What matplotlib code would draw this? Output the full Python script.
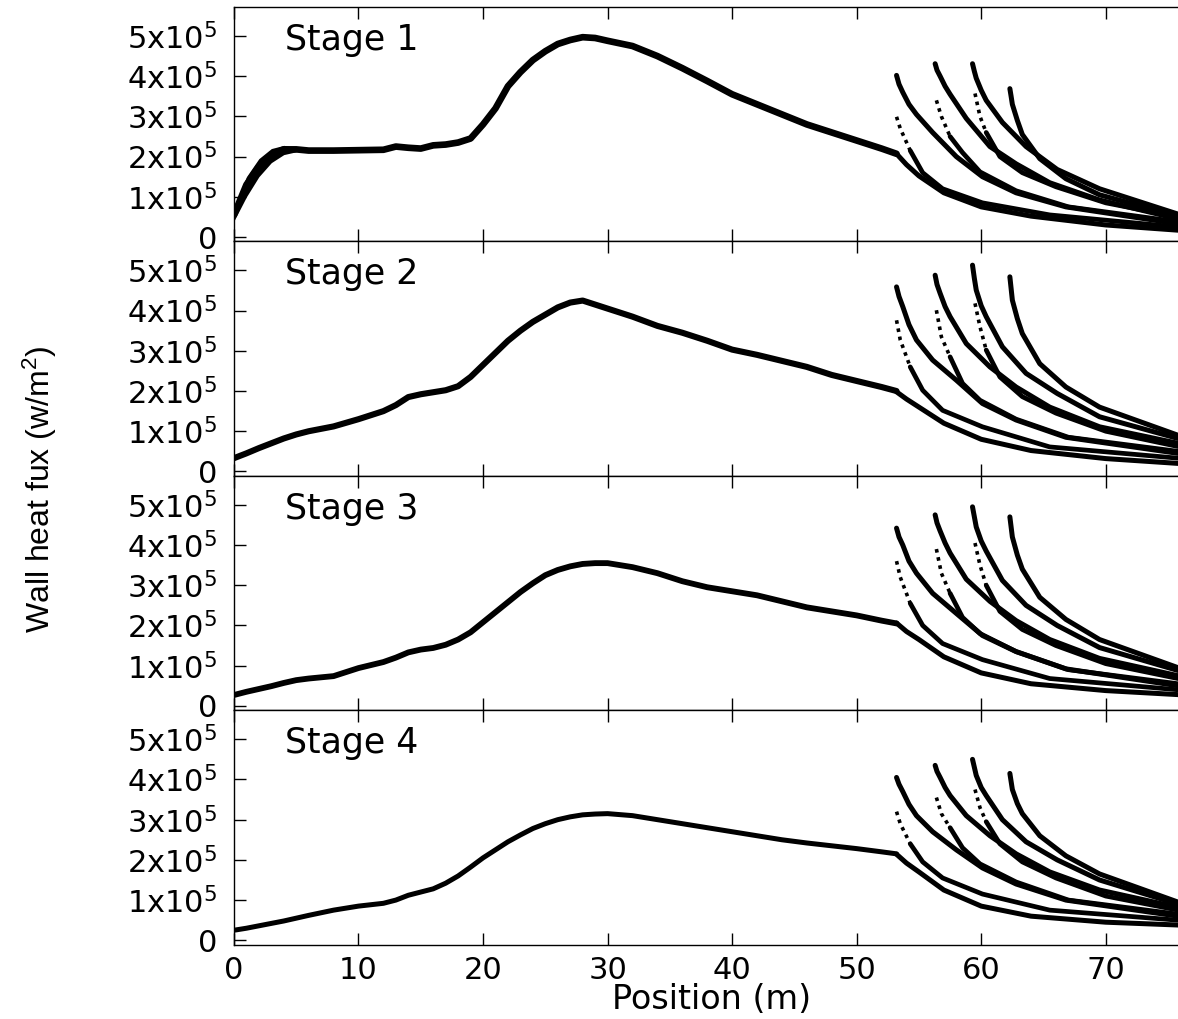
import numpy as np
import matplotlib.pyplot as plt

plt.rcParams['font.family'] = 'DejaVu Sans'
plt.rcParams['mathtext.default'] = 'regular'

# all heat flux values below are in units of 1e5 W/m2
E5 = 1e5

# main run, inlet to first outlet
main_x = [0, 1, 2, 3, 4, 5, 6, 8, 10, 12, 13, 14, 15, 16, 17, 18, 19, 20, 21, 22,
          23, 24, 25, 26, 27, 28, 29, 30, 32, 34, 36, 38, 40, 42, 44, 46, 48, 50, 52, 53.2]

stage1_main = [0.55, 1.3, 1.75, 2.05, 2.18, 2.18, 2.15, 2.15, 2.16, 2.17, 2.25, 2.22, 2.2, 2.28,
               2.3, 2.35, 2.45, 2.8, 3.2, 3.75, 4.1, 4.4, 4.62, 4.8, 4.9, 4.97, 4.95, 4.88,
               4.75, 4.5, 4.2, 3.88, 3.55, 3.3, 3.05, 2.8, 2.6, 2.4, 2.2, 2.07]
stage2_main = [0.33, 0.45, 0.58, 0.7, 0.82, 0.92, 1.0, 1.12, 1.3, 1.5, 1.65, 1.85, 1.92, 1.97,
               2.02, 2.12, 2.35, 2.65, 2.95, 3.25, 3.5, 3.72, 3.9, 4.08, 4.2, 4.25, 4.15, 4.05,
               3.85, 3.62, 3.45, 3.25, 3.03, 2.9, 2.75, 2.6, 2.4, 2.25, 2.1, 2.0]
stage3_main = [0.27, 0.35, 0.42, 0.49, 0.57, 0.64, 0.68, 0.74, 0.94, 1.09, 1.2, 1.33, 1.4, 1.44,
               1.52, 1.65, 1.83, 2.08, 2.33, 2.58, 2.83, 3.05, 3.25, 3.38, 3.47, 3.53, 3.55, 3.55,
               3.45, 3.3, 3.1, 2.95, 2.85, 2.75, 2.6, 2.45, 2.35, 2.25, 2.12, 2.05]
stage4_main = [0.25, 0.3, 0.36, 0.42, 0.48, 0.55, 0.62, 0.75, 0.85, 0.92, 1.0, 1.12, 1.2, 1.28,
               1.42, 1.6, 1.82, 2.05, 2.25, 2.45, 2.62, 2.78, 2.9, 3.0, 3.07, 3.12, 3.14, 3.15,
               3.1, 3.0, 2.9, 2.8, 2.7, 2.6, 2.5, 2.42, 2.35, 2.28, 2.2, 2.15]

# scatter band near the inlet in stage 1
band_x = [0, 1, 2, 3, 4, 5]
stage1_band_lo = [0.4, 1.0, 1.5, 1.85, 2.05, 2.12]
stage1_band_hi = [0.7, 1.5, 1.95, 2.2, 2.28, 2.22]

# outlet branches
tail_x = [53.2, 54.0, 55.0, 57.0, 60.0, 64.0, 70.0, 75.8]
b1u_x = [53.2, 53.4, 53.7, 54.2, 54.8, 56.1, 58.0, 60.1, 62.8, 66.8, 75.8]
b1l_x = [53.2, 53.5, 54.3, 55.3, 56.9, 60.1, 65.5, 75.8]
b2u_x = [56.3, 56.45, 56.7, 57.1, 57.5, 58.8, 60.7, 62.8, 65.5, 69.5, 75.8]
b2l_x = [56.4, 56.8, 57.5, 58.5, 59.9, 62.8, 67.0, 75.8]
b3u_x = [59.3, 59.45, 59.6, 60.0, 60.4, 61.7, 63.6, 66.1, 69.5, 75.8]
b3l_x = [59.5, 59.9, 60.4, 61.5, 63.3, 66.0, 70.0, 75.8]
b4_x = [62.3, 62.4, 62.5, 62.9, 63.3, 64.7, 66.8, 69.5, 75.8]

stage1_tail = [2.07, 1.8, 1.52, 1.1, 0.75, 0.52, 0.3, 0.17]
stage1_b1u = [4.02, 3.8, 3.6, 3.3, 3.05, 2.6, 2.0, 1.5, 1.1, 0.75, 0.33]
stage1_b1l = [2.99, 2.7, 2.15, 1.6, 1.2, 0.85, 0.55, 0.25]
stage1_b2u = [4.31, 4.15, 4.0, 3.75, 3.55, 2.95, 2.25, 1.82, 1.35, 0.92, 0.45]
stage1_b2l = [3.4, 3.0, 2.5, 2.1, 1.62, 1.15, 0.75, 0.38]
stage1_b3u = [4.31, 4.12, 3.95, 3.65, 3.4, 2.85, 2.25, 1.68, 1.2, 0.57]
stage1_b3l = [3.57, 3.0, 2.6, 2.0, 1.6, 1.25, 0.85, 0.5]
stage1_b4 = [3.69, 3.5, 3.3, 2.9, 2.55, 1.95, 1.45, 1.05, 0.52]

stage2_tail = [1.98, 1.8, 1.6, 1.2, 0.8, 0.52, 0.32, 0.2]
stage2_b1u = [4.59, 4.35, 4.1, 3.65, 3.27, 2.77, 2.27, 1.69, 1.28, 0.85, 0.45]
stage2_b1l = [3.76, 3.27, 2.6, 2.02, 1.52, 1.11, 0.61, 0.33]
stage2_b2u = [4.88, 4.65, 4.43, 4.1, 3.85, 3.18, 2.6, 2.1, 1.6, 1.11, 0.7]
stage2_b2l = [4.01, 3.35, 2.85, 2.19, 1.77, 1.3, 0.85, 0.5]
stage2_b3u = [5.13, 4.8, 4.51, 4.12, 3.85, 3.1, 2.44, 1.94, 1.36, 0.82]
stage2_b3l = [4.18, 3.6, 3.02, 2.35, 1.86, 1.45, 1.0, 0.62]
stage2_b4 = [4.84, 4.55, 4.26, 3.8, 3.43, 2.68, 2.1, 1.6, 0.9]

stage3_tail = [2.06, 1.85, 1.65, 1.22, 0.82, 0.55, 0.38, 0.28]
stage3_b1u = [4.42, 4.2, 4.0, 3.6, 3.3, 2.8, 2.3, 1.75, 1.35, 0.92, 0.5]
stage3_b1l = [3.6, 3.2, 2.55, 2.0, 1.55, 1.15, 0.68, 0.4]
stage3_b2u = [4.75, 4.55, 4.35, 4.05, 3.8, 3.15, 2.6, 2.12, 1.65, 1.18, 0.75]
stage3_b2l = [3.9, 3.3, 2.8, 2.2, 1.8, 1.35, 0.9, 0.55]
stage3_b3u = [4.95, 4.7, 4.45, 4.1, 3.85, 3.12, 2.5, 2.0, 1.45, 0.88]
stage3_b3l = [4.05, 3.5, 3.0, 2.35, 1.9, 1.5, 1.05, 0.68]
stage3_b4 = [4.7, 4.45, 4.2, 3.75, 3.4, 2.7, 2.15, 1.65, 0.95]

stage4_tail = [2.14, 1.92, 1.7, 1.25, 0.85, 0.6, 0.45, 0.38]
stage4_b1u = [4.05, 3.88, 3.7, 3.38, 3.1, 2.7, 2.25, 1.8, 1.4, 1.0, 0.6]
stage4_b1l = [3.2, 2.9, 2.4, 1.95, 1.55, 1.15, 0.75, 0.5]
stage4_b2u = [4.35, 4.2, 4.05, 3.8, 3.6, 3.1, 2.6, 2.15, 1.7, 1.25, 0.82]
stage4_b2l = [3.55, 3.15, 2.8, 2.3, 1.9, 1.45, 1.0, 0.65]
stage4_b3u = [4.5, 4.3, 4.1, 3.8, 3.6, 3.0, 2.45, 2.0, 1.5, 0.9]
stage4_b3l = [3.75, 3.3, 2.95, 2.4, 1.95, 1.55, 1.1, 0.75]
stage4_b4 = [4.15, 3.95, 3.75, 3.4, 3.15, 2.6, 2.1, 1.65, 0.95]

stage_names = ['Stage 1', 'Stage 2', 'Stage 3', 'Stage 4']
y_ticks = [0, 1, 2, 3, 4, 5]
y_ticklabels = ['0'] + ['%dx10$^{5}$' % v for v in y_ticks[1:]]
x_ticks = [0, 10, 20, 30, 40, 50, 60, 70]

stages = [
    (stage1_main, stage1_tail, stage1_b1u, stage1_b1l, stage1_b2u, stage1_b2l, stage1_b3u, stage1_b3l, stage1_b4),
    (stage2_main, stage2_tail, stage2_b1u, stage2_b1l, stage2_b2u, stage2_b2l, stage2_b3u, stage2_b3l, stage2_b4),
    (stage3_main, stage3_tail, stage3_b1u, stage3_b1l, stage3_b2u, stage3_b2l, stage3_b3u, stage3_b3l, stage3_b4),
    (stage4_main, stage4_tail, stage4_b1u, stage4_b1l, stage4_b2u, stage4_b2l, stage4_b3u, stage4_b3l, stage4_b4),
]
main_lw = [4.8, 4.4, 4.2, 3.6]


def scaled(vals):
    return np.array(vals) * E5


def plot_lower(ax, x, y):
    # lower branches start as sparse scattered points
    ax.plot(x[:3], scaled(y[:3]), color='k', lw=2.6, ls=(0, (1, 1.3)))
    ax.plot(x[2:], scaled(y[2:]), color='k', lw=3.4, solid_capstyle='round')


fig, axes = plt.subplots(4, 1, figsize=(11.78, 10.19), dpi=100, sharex=True)
fig.subplots_adjust(left=0.1986, right=1.0, top=0.9931, bottom=0.0729, hspace=0)

for i, ax in enumerate(axes):
    main, tail, b1u, b1l, b2u, b2l, b3u, b3l, b4 = stages[i]
    ax.plot(main_x, scaled(main), color='k', lw=main_lw[i], solid_capstyle='round')
    if i == 0:
        ax.fill_between(band_x, scaled(stage1_band_lo), scaled(stage1_band_hi), color='k', lw=0)
    ax.plot(tail_x, scaled(tail), color='k', lw=3.6, solid_capstyle='round')
    for bx, by in [(b1u_x, b1u), (b2u_x, b2u), (b3u_x, b3u), (b4_x, b4)]:
        ax.plot(bx, scaled(by), color='k', lw=3.6, solid_capstyle='round')
    for bx, by in [(b1l_x, b1l), (b2l_x, b2l), (b3l_x, b3l)]:
        plot_lower(ax, bx, by)

    ax.text(0.054, 0.86, stage_names[i], transform=ax.transAxes, fontsize=25,
            va='center', ha='left')

    ax.set_xlim(0, 75.8)
    ax.set_ylim(-0.11 * E5, 5.72 * E5)
    ax.set_yticks(scaled(y_ticks))
    ax.set_yticklabels(y_ticklabels)
    ax.set_xticks(x_ticks)
    ax.tick_params(axis='both', direction='in', length=8.5, width=1.0,
                   top=True, right=False, labelsize=22)
    ax.tick_params(axis='y', pad=12)
    ax.tick_params(axis='x', pad=8)
    ax.spines['right'].set_visible(False)
    for s in ['left', 'top', 'bottom']:
        ax.spines[s].set_linewidth(1.0)

fig.text(0.604, 0.0195, 'Position (m)', fontsize=24, ha='center', va='center')
fig.text(0.034, 0.52, 'Wall heat fux (w/m$^{2}$)', rotation=90, va='center', ha='center',
         fontsize=23, family=['Liberation Sans Narrow', 'Liberation Sans'])

fig.savefig('out.png', dpi=100)
